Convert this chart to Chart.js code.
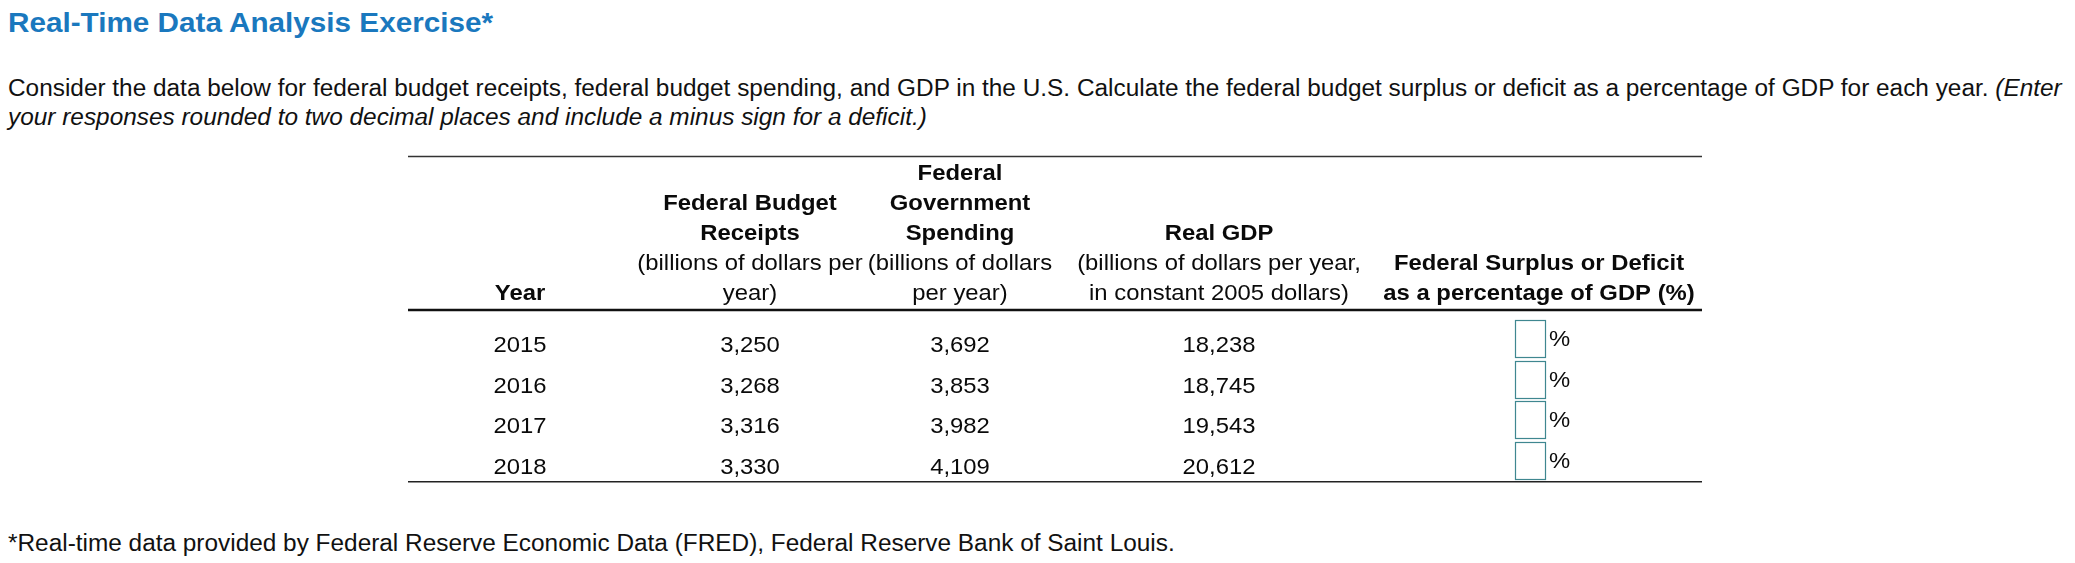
<!DOCTYPE html>
<html lang="en">
<head>
    <meta charset="UTF-8">
    <title>Real-Time Data Analysis Exercise</title>
    <script src="https://cdnjs.cloudflare.com/ajax/libs/Chart.js/4.4.1/chart.umd.min.js"></script>
    <style>
        body {
            margin: 0;
            background: #fff;
            font-family: "Liberation Sans", Arial, sans-serif;
            color: #111;
        }
        .page {
            position: relative;
            width: 2075px;
            height: 563px;
            overflow: hidden;
        }
        .stretch {
            position: absolute;
            left: 8px;
            white-space: nowrap;
            transform: scaleX(1.06);
            transform-origin: 0 0;
        }
        .title {
            top: 9px;
            font-size: 28px;
            line-height: 28px;
            font-weight: bold;
            color: #1a78be;
        }
        .para {
            top: 74px;
            font-size: 23px;
            line-height: 29px;
        }
        .foot {
            top: 532px;
            font-size: 23px;
            line-height: 23px;
        }
        .table-box {
            position: absolute;
            left: 0;
            top: 0;
            width: 2075px;
            height: 563px;
        }
    </style>
</head>
<body>
    <div class="page">
        <div class="stretch title">Real-Time Data Analysis Exercise*</div>
        <div class="stretch para">Consider the data below for federal budget receipts, federal budget spending, and GDP in the U.S. Calculate the federal budget surplus or deficit as a percentage of GDP for each year. <i>(Enter</i><br><i>your responses rounded to two decimal places and include a minus sign for a deficit.)</i></div>
        <div class="stretch foot">*Real-time data provided by Federal Reserve Economic Data (FRED), Federal Reserve Bank of Saint Louis.</div>
        <div class="table-box">
            <canvas id="tableChart"></canvas>
        </div>
    </div>

    <script>
        // data
        const years = ['2015', '2016', '2017', '2018'];
        const receipts = [3250, 3268, 3316, 3330];
        const spending = [3692, 3853, 3982, 4109];
        const realGDP = [18238, 18745, 19543, 20612];

        // column headers: [text, bold]
        const headYear = [['Year', true]];
        const headReceipts = [['Federal Budget', true], ['Receipts', true], ['(billions of dollars per', false], ['year)', false]];
        const headSpending = [['Federal', true], ['Government', true], ['Spending', true], ['(billions of dollars', false], ['per year)', false]];
        const headGDP = [['Real GDP', true], ['(billions of dollars per year,', false], ['in constant 2005 dollars)', false]];
        const headSurplus = [['Federal Surplus or Deficit', true], ['as a percentage of GDP (%)', true]];

        // layout (table units = px from table left edge)
        const TABLE_W = 1294;
        const colCenters = [112, 342, 552, 811, 1131];
        const headBaselines = [180, 210, 240, 270, 300];
        const FONT = '"Liberation Sans", Arial, sans-serif';
        const FS = 22.5;
        const SX = 1.06;

        const fmt = v => v.toLocaleString('en-US');

        function drawText(ctx, text, x, y, bold, align) {
            ctx.save();
            ctx.font = (bold ? 'bold ' : '') + FS + 'px ' + FONT;
            ctx.fillStyle = '#0a0a0a';
            ctx.textAlign = align || 'center';
            ctx.textBaseline = 'alphabetic';
            ctx.translate(x, y);
            ctx.scale(SX, 1);
            ctx.fillText(text, 0, 0);
            ctx.restore();
        }

        function rule(ctx, x1, x2, y, w, color) {
            ctx.save();
            ctx.strokeStyle = color;
            ctx.lineWidth = w;
            ctx.beginPath();
            ctx.moveTo(x1, y);
            ctx.lineTo(x2, y);
            ctx.stroke();
            ctx.restore();
        }

        // draws header, rules and cell contents at the points placed by the scales
        const tablePlugin = {
            id: 'tableCells',
            afterDatasetsDraw(chart) {
                const ctx = chart.ctx;
                const xs = chart.scales.x;
                const area = chart.chartArea;

                rule(ctx, area.left, area.right, 156.5, 1.3, '#333');
                rule(ctx, area.left, area.right, 310, 2.6, '#111');
                rule(ctx, area.left, area.right, area.bottom - 4.5, 1.6, '#222');

                const heads = [headYear, headReceipts, headSpending, headGDP, headSurplus];
                heads.forEach((lines, c) => {
                    const cx = xs.getPixelForValue(colCenters[c]);
                    const start = headBaselines.length - lines.length;
                    lines.forEach((ln, k) => drawText(ctx, ln[0], cx, headBaselines[start + k], ln[1]));
                });

                chart.data.datasets.forEach((ds, i) => {
                    const meta = chart.getDatasetMeta(i);
                    meta.data.forEach((pt, j) => {
                        if (ds.input) {
                            ctx.save();
                            ctx.strokeStyle = '#3f8790';
                            ctx.lineWidth = 1.2;
                            ctx.strokeRect(Math.round(pt.x) - 23.5, Math.round(pt.y) - 23.5, 30, 37);
                            ctx.restore();
                            drawText(ctx, '%', pt.x + 10, pt.y + 2, false, 'left');
                        } else {
                            drawText(ctx, ds.cells[j], pt.x, pt.y + 8, false);
                        }
                    });
                });
            }
        };

        function column(c, cells, input) {
            return {
                data: years.map(y => ({ x: colCenters[c], y: y })),
                cells: cells,
                input: !!input,
                pointRadius: 0,
                showLine: false
            };
        }

        const ctx = document.getElementById('tableChart').getContext('2d');
        new Chart(ctx, {
            type: 'scatter',
            data: {
                datasets: [
                    column(0, years),
                    column(1, receipts.map(fmt)),
                    column(2, spending.map(fmt)),
                    column(3, realGDP.map(fmt)),
                    column(4, null, true)
                ]
            },
            options: {
                responsive: true,
                maintainAspectRatio: false,
                animation: false,
                events: [],
                layout: {
                    padding: { left: 408, right: 373, top: 324, bottom: 76.8 }
                },
                plugins: {
                    legend: { display: false },
                    tooltip: { enabled: false }
                },
                scales: {
                    x: { type: 'linear', min: 0, max: TABLE_W, display: false },
                    y: { type: 'category', labels: years, offset: true, display: false }
                }
            },
            plugins: [tablePlugin]
        });
    </script>
</body>
</html>
